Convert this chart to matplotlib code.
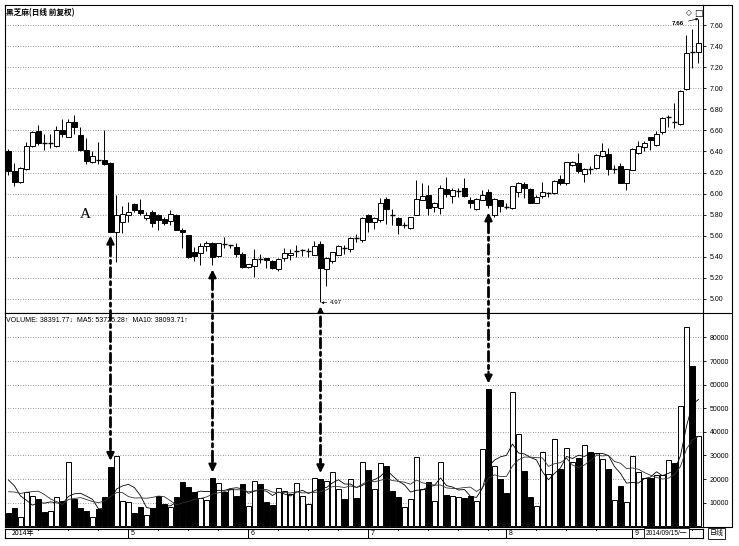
import numpy as np
import pandas as pd
import matplotlib
matplotlib.use("Agg")
import matplotlib.pyplot as plt
from matplotlib.patches import ConnectionPatch
from matplotlib.lines import Line2D

# --- daily candles, April .. mid September 2014 (index = trading day) ---
opens = [6.40, 6.21, 6.11, 6.23, 6.45, 6.59, 6.49, 6.47, 6.45, 6.60,
         6.54, 6.68, 6.56, 6.41, 6.30, 6.33, 6.32, 6.29, 5.64, 5.73,
         5.80, 5.90, 5.84, 5.77, 5.83, 5.80, 5.76, 5.74, 5.80, 5.655,
         5.61, 5.45, 5.44, 5.50, 5.53, 5.41, 5.53, 5.505, 5.49, 5.43,
         5.30, 5.31, 5.385, 5.39, 5.36, 5.28, 5.39, 5.42, 5.45, 5.46,
         5.45, 5.42, 5.52, 5.28, 5.36, 5.42, 5.49, 5.47, 5.59, 5.56,
         5.80, 5.73, 5.75, 5.95, 5.81, 5.77, 5.69, 5.67, 5.80, 5.94,
         5.99, 5.87, 5.86, 6.04, 5.98, 6.02, 6.05, 5.94, 5.85, 5.94,
         6.02, 5.80, 5.94, 5.88, 5.86, 6.02, 6.09, 6.04, 5.91, 5.98,
         6.00, 6.01, 6.14, 6.10, 6.27, 6.29, 6.19, 6.235, 6.24, 6.36,
         6.38, 6.22, 6.26, 6.10, 6.22, 6.39, 6.44, 6.54, 6.46, 6.58,
         6.72, 6.69, 6.66, 6.99, 7.35, 7.34]
highs = [6.42, 6.29, 6.25, 6.49, 6.59, 6.65, 6.57, 6.57, 6.64, 6.71,
         6.71, 6.75, 6.63, 6.53, 6.40, 6.49, 6.60, 6.30, 5.99, 5.88,
         5.92, 5.91, 5.95, 5.83, 5.84, 5.81, 5.78, 5.84, 5.81, 5.67,
         5.61, 5.49, 5.53, 5.55, 5.54, 5.53, 5.59, 5.51, 5.53, 5.45,
         5.33, 5.47, 5.43, 5.39, 5.37, 5.39, 5.48, 5.47, 5.51, 5.47,
         5.48, 5.55, 5.55, 5.40, 5.45, 5.51, 5.51, 5.59, 5.62, 5.78,
         5.81, 5.78, 5.96, 5.97, 5.85, 5.78, 5.73, 5.78, 6.13, 6.10,
         6.08, 5.92, 6.08, 6.16, 6.05, 6.05, 6.15, 5.97, 5.96, 6.03,
         6.04, 5.96, 5.94, 5.91, 6.07, 6.11, 6.11, 6.05, 5.99, 6.11,
         6.02, 6.13, 6.18, 6.30, 6.31, 6.39, 6.24, 6.26, 6.38, 6.48,
         6.43, 6.27, 6.29, 6.23, 6.43, 6.50, 6.50, 6.54, 6.59, 6.73,
         6.75, 6.86, 6.98, 7.51, 7.56, 7.66]
lows = [6.18, 6.07, 6.10, 6.22, 6.44, 6.46, 6.41, 6.43, 6.44, 6.54,
        6.54, 6.57, 6.40, 6.28, 6.29, 6.28, 6.27, 5.64, 5.35, 5.63,
        5.73, 5.83, 5.80, 5.75, 5.68, 5.65, 5.70, 5.70, 5.65, 5.48,
        5.39, 5.36, 5.32, 5.46, 5.32, 5.40, 5.48, 5.48, 5.40, 5.29,
        5.29, 5.21, 5.34, 5.29, 5.28, 5.27, 5.36, 5.37, 5.40, 5.41,
        5.40, 5.42, 4.97, 5.12, 5.34, 5.42, 5.43, 5.45, 5.54, 5.54,
        5.64, 5.66, 5.73, 5.71, 5.70, 5.62, 5.67, 5.66, 5.80, 5.94,
        5.80, 5.83, 5.81, 5.97, 5.91, 5.97, 5.97, 5.86, 5.84, 5.94,
        5.86, 5.78, 5.83, 5.85, 5.85, 5.97, 5.96, 5.91, 5.91, 5.96,
        5.97, 6.00, 6.08, 6.08, 6.26, 6.20, 6.11, 6.19, 6.23, 6.35,
        6.18, 6.20, 6.10, 6.03, 6.22, 6.38, 6.40, 6.41, 6.45, 6.57,
        6.63, 6.62, 6.65, 6.98, 7.19, 7.24]
closes = [6.21, 6.11, 6.24, 6.45, 6.58, 6.48, 6.48, 6.48, 6.60, 6.57,
          6.68, 6.63, 6.41, 6.31, 6.36, 6.32, 6.28, 5.64, 5.80, 5.81,
          5.83, 5.84, 5.82, 5.80, 5.72, 5.75, 5.72, 5.81, 5.65, 5.64,
          5.40, 5.41, 5.50, 5.53, 5.40, 5.53, 5.52, 5.51, 5.43, 5.30,
          5.33, 5.38, 5.375, 5.37, 5.29, 5.38, 5.44, 5.44, 5.46, 5.465,
          5.455, 5.50, 5.29, 5.39, 5.45, 5.50, 5.48, 5.58, 5.58, 5.77,
          5.73, 5.77, 5.91, 5.85, 5.80, 5.70, 5.70, 5.78, 5.95, 5.98,
          5.86, 5.91, 6.05, 6.00, 6.03, 6.025, 5.98, 5.91, 5.95, 5.99,
          5.89, 5.95, 5.88, 5.875, 6.07, 6.10, 6.05, 5.91, 5.97, 6.02,
          6.01, 6.12, 6.10, 6.30, 6.30, 6.21, 6.23, 6.23, 6.37, 6.40,
          6.23, 6.23, 6.10, 6.23, 6.42, 6.45, 6.48, 6.51, 6.57, 6.72,
          6.725, 6.68, 6.97, 7.33, 7.34, 7.43]
volumes = [5760, 7620, 3800, 14660, 12840, 11570, 6200, 6480, 12540, 10850,
           27380, 11570, 7620, 6480, 4070, 7190, 12540, 25260, 29790, 10850,
           10430, 5500, 8330, 4800, 7900, 12840, 9460, 8330, 12290, 18910,
           16790, 14660, 11850, 11150, 20330, 18220, 14660, 15660, 12840, 18000,
           8740, 19200, 17930, 10440, 9020, 16110, 14970, 13700, 18490, 12990,
           9330, 20610, 20050, 19200, 22890, 15820, 11570, 20050, 11860, 27390,
           23860, 15820, 26690, 25690, 15100, 12290, 8050, 11440, 29500, 15820,
           18920, 10860, 27390, 13260, 12850, 12570, 11860, 12990, 10860, 32700,
           58040, 25690, 19900, 13980, 56780, 38980, 23570, 12560, 8740, 31640,
           22040, 37000, 24290, 33060, 27390, 28800, 34460, 31640, 30940, 28530,
           24290, 11140, 17080, 10440, 29940, 23150, 20500, 20300, 21600, 21700,
           28200, 26960, 51120, 84330, 67920, 38391.77]
# the 9 sessions before the window, only used to seed the MA lines
prior_volumes = [9000, 10000, 9500, 10000, 10100, 20000, 25000, 24000, 23240]

month_starts = [20, 40, 60, 83, 104]
month_labels = ["5", "6", "7", "8", "9"]
price_ticks = [5.00, 5.20, 5.40, 5.60, 5.80, 6.00, 6.20, 6.40, 6.60, 6.80, 7.00, 7.20, 7.40, 7.60]
vol_ticks = [10000, 20000, 30000, 40000, 50000, 60000, 70000, 80000]
marked_days = [17, 34, 52, 80]

title = "黑芝麻(日线 前复权)"
vol_header = "VOLUME: 38391.77↓  MA5: 53725.28↑  MA10: 38093.71↑"
cjk = ["Noto Sans CJK SC", "DejaVu Sans"]
sans = ["Liberation Sans", "DejaVu Sans"]

W, H = 739, 546


def fx(px):
    return px / W


def fy(py):
    return 1 - py / H


o = np.array(opens)
h = np.array(highs)
l = np.array(lows)
c = np.array(closes)
v = np.array(volumes)
x = np.arange(len(o))
up = c >= o

s = pd.Series(prior_volumes + list(volumes), dtype=float)
ma5 = s.rolling(5).mean().to_numpy()[len(prior_volumes):]
ma10 = s.rolling(10).mean().to_numpy()[len(prior_volumes):]

fig = plt.figure(figsize=(W / 100, H / 100), dpi=100)
L, R = 5, 702.7
ax_p = fig.add_axes([fx(L), fy(313), fx(R) - fx(L), fy(5) - fy(313)])
ax_v = fig.add_axes([fx(L), fy(526.5), fx(R) - fx(L), fy(313) - fy(526.5)])
ax_d = fig.add_axes([fx(L), fy(538), fx(R) - fx(L), fy(528.5) - fy(538)])

for ax in (ax_p, ax_v, ax_d):
    ax.set_xlim(-0.58, 115.7)
    for sp in ax.spines.values():
        sp.set_linewidth(0.8)
        sp.set_color("black")

# --- price panel ---
ax_p.set_ylim(4.867, 7.79)
ax_p.set_yticks(price_ticks)
ax_p.yaxis.set_major_formatter("{x:.2f}")
ax_p.grid(True, axis="y", ls=(0, (1, 2)), color="#777777", lw=0.6)
ax_p.set_xticks([])

ax_p.vlines(x, l, h, color="black", lw=0.7, zorder=2)
body_bot = np.minimum(o, c)
body_h = np.abs(c - o)
doji = body_h < 0.012
ax_p.bar(x[~doji], body_h[~doji], bottom=body_bot[~doji], width=0.68,
         color=np.where(up, "white", "black")[~doji], edgecolor="black", lw=0.7, zorder=3)
ax_p.hlines(c[doji], x[doji] - 0.34, x[doji] + 0.34, color="black", lw=1.0, zorder=3)

ax_p.text(0.0015, 0.975, title, transform=ax_p.transAxes, fontsize=5.5, family=cjk,
          ha="left", va="center", fontweight="bold")
ax_p.text(12.8, 5.80, "A", family=["Liberation Serif", "DejaVu Serif"], fontsize=11,
          ha="center", va="center")
ax_p.annotate("4.97", xy=(52.1, 4.965), xytext=(53.5, 4.965), fontsize=4.5, family=sans,
              va="center", ha="left",
              arrowprops=dict(arrowstyle="-|>,head_length=0.3,head_width=0.15", lw=0.5,
                              color="black", shrinkA=0, shrinkB=0))
ax_p.annotate("7.66", xy=(115, 7.66), xytext=(110.6, 7.615), fontsize=4.5, family=sans,
              va="center", ha="left", fontweight="bold",
              arrowprops=dict(arrowstyle="-|>,head_length=0.3,head_width=0.15", lw=0.5,
                              color="black", shrinkA=1, shrinkB=0))
ax_p.text(113.4, 7.714, "◇", fontsize=5.5, ha="center", va="center")
ax_p.text(114.9, 7.714, "□", fontsize=6.5, ha="center", va="center")

# --- volume panel ---
ax_v.set_ylim(-85, 90380)
ax_v.set_yticks(vol_ticks)
ax_v.yaxis.set_major_formatter("{x:.0f}")
ax_v.grid(True, axis="y", ls=(0, (1, 2)), color="#777777", lw=0.6)
ax_v.set_xticks([])
ax_v.bar(x, v, width=0.75, color=np.where(up, "white", "black"), edgecolor="black",
         lw=0.7, zorder=3)
ax_v.plot(x, ma5, color="black", lw=0.6, zorder=4)
ax_v.plot(x, ma10, color="#333333", lw=0.6, zorder=4)
ax_v.text(0.0015, 0.967, vol_header, transform=ax_v.transAxes, fontsize=5, family=sans,
          ha="left", va="center")

for ax in (ax_p, ax_v):
    ax.tick_params(axis="y", left=False, right=True, labelleft=False, labelright=True,
                   length=2.5, width=0.6, pad=2.5, labelsize=5)
    for lab in ax.get_yticklabels():
        lab.set_family(sans)

# --- dash-dot arrows linking a price move to its volume bar ---
head = dict(arrowstyle="-|>,head_length=0.45,head_width=0.22", lw=1.6,
            color="black", shrinkA=0, shrinkB=0)
for i in marked_days:
    top = lows[i] - 0.04
    bot = volumes[i] + 2500
    con = ConnectionPatch(xyA=(i, top - 0.1), coordsA=ax_p.transData,
                          xyB=(i, bot + 4500), coordsB=ax_v.transData,
                          arrowstyle="-", lw=2.0, ls=(0, (3.5, 1.5, 1.2, 1.5)),
                          color="black", zorder=6)
    fig.add_artist(con)
    ax_p.annotate("", xy=(i, top), xytext=(i, top - 0.11), arrowprops=head, zorder=6)
    ax_v.annotate("", xy=(i, bot), xytext=(i, bot + 5000), arrowprops=head, zorder=6)

# --- date bar ---
ax_d.set_ylim(0, 1)
ax_d.set_yticks([])
ax_d.set_xticks([])
ax_d.text(0.5, 0.5, "2014年", fontsize=5, family=cjk, ha="left", va="center")
edges = month_starts + [116]
for k, (m, lab) in enumerate(zip(month_starts, month_labels)):
    ax_d.axvline(m, color="black", lw=0.7)
    ax_d.text(m + 0.3, 0.5, lab, fontsize=5, family=sans, ha="left", va="center")
    for t in range(m + 5, edges[k + 1] - 1, 5):
        ax_d.plot([t, t], [0.8, 1.0], color="black", lw=0.6)
for t in range(5, month_starts[0] - 1, 5):
    ax_d.plot([t, t], [0.8, 1.0], color="black", lw=0.6)
ax_d.text(109.7, 0.5, "2014/09/15/一", fontsize=4.8, family=sans + ["Noto Sans CJK SC"],
          ha="center", va="center",
          bbox=dict(boxstyle="square,pad=0.25", fc="white", ec="black", lw=0.6))

# --- right-hand frame and the period box ---
frame = dict(transform=fig.transFigure, color="black", lw=0.8)
fig.add_artist(Line2D([fx(R), fx(731.7), fx(731.7), fx(R)],
                      [fy(5), fy(5), fy(526.5), fy(526.5)], **frame))
fig.add_artist(Line2D([fx(R), fx(731.7)], [fy(313), fy(313)], **frame))
fig.text(fx(716.5), fy(533.3), "日线", fontsize=5, family=cjk, ha="center", va="center",
         bbox=dict(boxstyle="square,pad=0.25", fc="white", ec="black", lw=0.6))

fig.savefig("out.png", dpi=100)
